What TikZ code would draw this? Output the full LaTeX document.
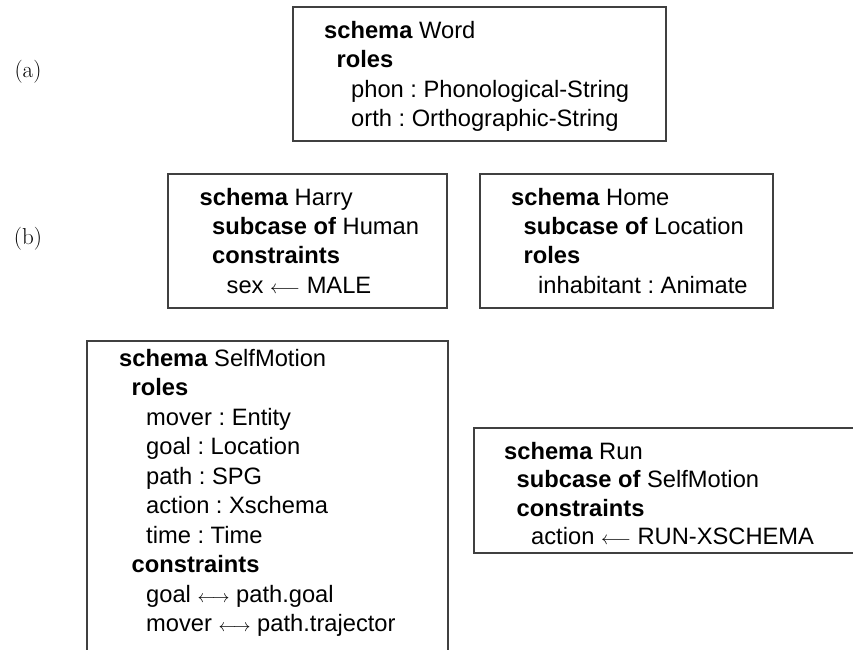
\documentclass[tikz,border=0pt]{standalone}
\usepackage{fontspec}
\newfontfamily\boxfont{Liberation Sans}
\frenchspacing
\newcommand\kw[1]{\textbf{#1}}
\newcommand\lvlone{\hspace*{12.5pt}}
\newcommand\lvltwo{\hspace*{27pt}}
\newcommand\schemalines[2]{\vtop{\baselineskip=#1pt\lineskiplimit=-20pt #2}}
\newcommand\sline[1]{\hbox{#1}}
% arrows are set a little smaller than the surrounding text
\newcommand\larr{\resizebox{30pt}{!}{$\longleftarrow$}}
\newcommand\lrarr{\resizebox{32pt}{!}{$\longleftrightarrow$}}
\tikzset{
  schemabox/.style={draw=black!75, line width=1.1pt},
  schematext/.style={anchor=base west, inner sep=0pt,
    font=\boxfont\fontsize{23.7}{29}\selectfont},
  sublabel/.style={inner sep=0pt, font=\fontsize{23}{28}\selectfont}
}
\begin{document}
\begin{tikzpicture}[x=1pt,y=-1pt]
  \useasboundingbox[fill=white] (0,0) rectangle (853,649);

  % sub-figure labels
  \node[sublabel] (la) at (28,71.5) {(a)};
  \node[sublabel] (lb) at (28,238.5) {(b)};

  % (a) Word
  \draw[schemabox] (293,7) rectangle (666,141);
  \node[schematext] (word) at (324,38) {\schemalines{29.5}{%
    \sline{\kw{schema} Word}%
    \sline{\lvlone\kw{roles}}%
    \sline{\lvltwo phon : Phonological-String}%
    \sline{\lvltwo orth : Orthographic-String}}};

  % (b) Harry and Home
  \draw[schemabox] (168,174) rectangle (447,308);
  \node[schematext] (harry) at (199.5,205) {\schemalines{29.4}{%
    \sline{\kw{schema} Harry}%
    \sline{\lvlone\kw{subcase of} Human}%
    \sline{\lvlone\kw{constraints}}%
    \sline{\lvltwo sex \larr{} MALE}}};

  \draw[schemabox] (480,174) rectangle (773,308);
  \node[schematext] (home) at (511,205) {\schemalines{29.4}{%
    \sline{\kw{schema} Home}%
    \sline{\lvlone\kw{subcase of} Location}%
    \sline{\lvlone\kw{roles}}%
    \sline{\lvltwo inhabitant : Animate}}};

  % SelfMotion (open at the bottom) and Run (open at the right)
  \draw[schemabox] (448,700) -- (448,341) -- (87,341) -- (87,700);
  \node[schematext] (selfmotion) at (119,366) {\schemalines{29.5}{%
    \sline{\kw{schema} SelfMotion}%
    \sline{\lvlone\kw{roles}}%
    \sline{\lvltwo mover : Entity}%
    \sline{\lvltwo goal : Location}%
    \sline{\lvltwo path : SPG}%
    \sline{\lvltwo action : Xschema}%
    \sline{\lvltwo time : Time}%
    \sline{\lvlone\kw{constraints}}%
    \sline{\lvltwo goal \lrarr{} path.goal}%
    \sline{\lvltwo mover \lrarr{} path.trajector}}};

  \draw[schemabox] (900,428) -- (474,428) -- (474,553) -- (900,553);
  \node[schematext] (run) at (504,459) {\schemalines{28.5}{%
    \sline{\kw{schema} Run}%
    \sline{\lvlone\kw{subcase of} SelfMotion}%
    \sline{\lvlone\kw{constraints}}%
    \sline{\lvltwo action \larr{} RUN-XSCHEMA}}};
\end{tikzpicture}
\end{document}
